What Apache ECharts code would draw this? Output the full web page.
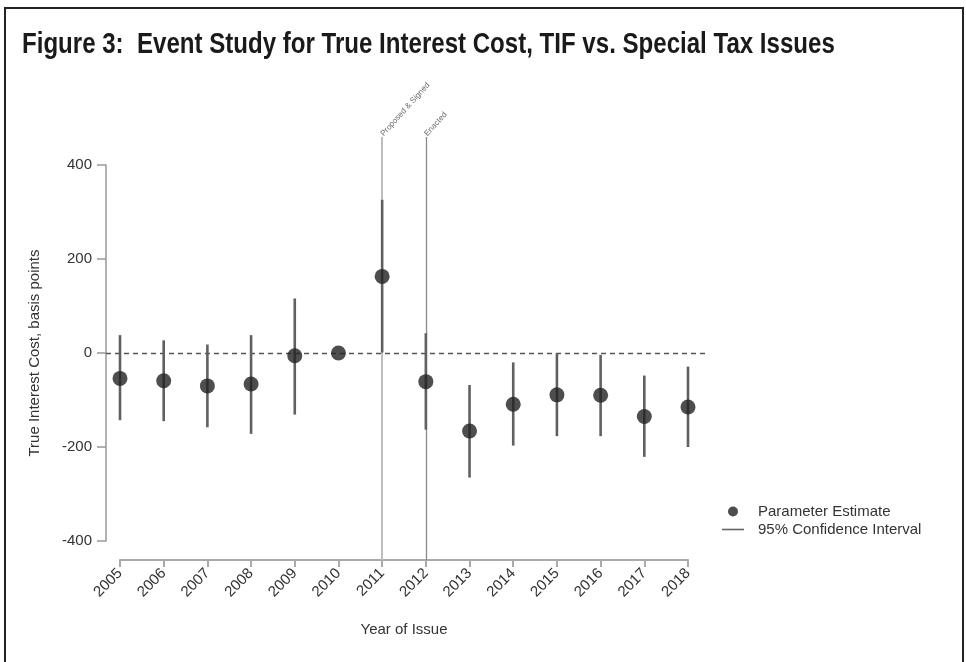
<!DOCTYPE html>
<html>
<head>
<meta charset="utf-8">
<script src="https://cdn.jsdelivr.net/npm/echarts@6/dist/echarts.min.js"></script>
<style>
  html, body { margin: 0; padding: 0; background: #fff; }
  #chart { width: 966px; height: 662px; }
</style>
</head>
<body>
<div id="chart"></div>
<script>
// values (basis points)
var years = [2005, 2006, 2007, 2008, 2009, 2010, 2011, 2012, 2013, 2014, 2015, 2016, 2017, 2018];
var estimates = [-54, -59, -70, -66, -6, 0, 163, -61, -166, -109, -89, -90, -135, -115];
var ciLow = [-143, -145, -158, -172, -131, null, 1, -163, -265, -197, -177, -177, -221, -200];
var ciHigh = [38, 27, 18, 38, 116, null, 326, 42, -68, -20, -1, -4, -48, -29];
var events = [2011, 2012];
var eventLabels = ["Proposed & Signed", "Enacted"];

var font = "Liberation Sans";
var myChart = echarts.init(document.getElementById("chart"));

var pointData = years.map(function (y, i) { return [y, estimates[i]]; });
var ciData = [];
years.forEach(function (y, i) {
  if (ciLow[i] != null) ciData.push([y, ciLow[i], ciHigh[i]]);
});

var option = {
  animation: false,
  backgroundColor: "#fff",
  graphic: [
    {
      type: "rect",
      shape: { x: 5, y: 8, width: 958, height: 700 },
      style: { fill: "none", stroke: "#222", lineWidth: 2 },
      silent: true,
    },
    {
      // condensed bold title
      type: "text",
      x: 22,
      y: 30,
      scaleX: 0.83,
      style: {
        text: "Figure 3:  Event Study for True Interest Cost, TIF vs. Special Tax Issues",
        fontFamily: font,
        fontWeight: "bold",
        fontSize: 29,
        fill: "#1a1a1a",
        verticalAlign: "top",
      },
      silent: true,
    },
  ],
  legend: {
    orient: "vertical",
    left: 717,
    top: 499,
    itemWidth: 22,
    itemHeight: 10,
    itemGap: 3,
    textStyle: { fontFamily: font, fontSize: 15, color: "#333", padding: [0, 0, 0, 9] },
    data: [
      { name: "Parameter Estimate", icon: "circle", itemStyle: { color: "#222" } },
      { name: "95% Confidence Interval", icon: "path://M0,0 L22,0 L22,1.6 L0,1.6 Z", itemStyle: { color: "#666" } },
    ],
  },
  grid: [
    // main plot area
    { left: 120, right: 278, top: 165, bottom: 121 },
    // event lines (reach above and below the y range)
    { left: 120, right: 278, top: 137, bottom: 102 },
    // dashed zero line
    { left: 106, right: 261, top: 165, bottom: 121 },
  ],
  xAxis: [
    {
      gridIndex: 0,
      type: "value",
      min: 2005,
      max: 2018,
      interval: 1,
      offset: 19,
      axisLine: { show: true, onZero: false, lineStyle: { color: "#aaa", width: 2 } },
      axisTick: { show: true, length: 7, lineStyle: { color: "#aaa", width: 2 } },
      axisLabel: {
        rotate: 45,
        margin: 11,
        fontFamily: font,
        fontSize: 15,
        color: "#333",
        formatter: function (v) { return String(v); },
      },
      splitLine: { show: false },
      name: "Year of Issue",
      nameLocation: "middle",
      nameGap: 62,
      nameTextStyle: { fontFamily: font, fontSize: 15, color: "#333" },
    },
    { gridIndex: 1, type: "value", min: 2005, max: 2018, show: false, axisLine: { onZero: false } },
    { gridIndex: 2, type: "value", min: 0, max: 1, show: false, axisLine: { onZero: false } },
  ],
  yAxis: [
    {
      gridIndex: 0,
      type: "value",
      min: -400,
      max: 400,
      interval: 200,
      offset: 14,
      axisLine: { show: true, onZero: false, lineStyle: { color: "#999", width: 1.5 } },
      axisTick: { show: true, length: 9, lineStyle: { color: "#999", width: 1.5 } },
      axisLabel: { margin: 14, fontFamily: font, fontSize: 15, color: "#333" },
      splitLine: { show: false },
      name: "True Interest Cost, basis points",
      nameLocation: "middle",
      nameGap: 64,
      nameTextStyle: { fontFamily: font, fontSize: 15, color: "#333" },
    },
    { gridIndex: 1, type: "value", min: 0, max: 1, show: false, axisLine: { onZero: false } },
    { gridIndex: 2, type: "value", min: -400, max: 400, show: false, axisLine: { onZero: false } },
  ],
  series: [
    {
      name: "zero",
      type: "scatter",
      xAxisIndex: 2,
      yAxisIndex: 2,
      data: [],
      silent: true,
      z: 1,
      markLine: {
        silent: true,
        z: 1,
        symbol: "none",
        label: { show: false },
        lineStyle: { color: "#555", width: 1.3, type: [5, 4] },
        data: [{ yAxis: 0 }],
      },
    },
    {
      name: "events",
      type: "scatter",
      xAxisIndex: 1,
      yAxisIndex: 1,
      symbolSize: 0,
      silent: true,
      z: 1,
      data: events.map(function (e, i) {
        return { value: [e, 1], label: { formatter: eventLabels[i] } };
      }),
      label: {
        show: true,
        position: "top",
        distance: 2,
        rotate: 48,
        align: "left",
        verticalAlign: "middle",
        fontFamily: font,
        fontSize: 8,
        color: "#444",
      },
      markLine: {
        silent: true,
        z: 1,
        symbol: "none",
        label: { show: false },
        data: [
          { xAxis: events[0], lineStyle: { color: "#bdbdbd", width: 2, type: "solid" } },
          { xAxis: events[1], lineStyle: { color: "#8a8a8a", width: 1.3, type: "solid" } },
        ],
      },
    },
    {
      name: "95% Confidence Interval",
      type: "custom",
      xAxisIndex: 0,
      yAxisIndex: 0,
      z: 3,
      data: ciData,
      renderItem: function (params, api) {
        var p1 = api.coord([api.value(0), api.value(1)]);
        var p2 = api.coord([api.value(0), api.value(2)]);
        return {
          type: "line",
          shape: { x1: p1[0], y1: p1[1], x2: p2[0], y2: p2[1] },
          style: { stroke: "#606060", lineWidth: 2.6 },
        };
      },
    },
    {
      name: "Parameter Estimate",
      type: "scatter",
      xAxisIndex: 0,
      yAxisIndex: 0,
      z: 4,
      symbol: "circle",
      symbolSize: 15,
      itemStyle: { color: "#222" },
      data: pointData,
    },
  ],
};

myChart.setOption(option);
</script>
</body>
</html>
